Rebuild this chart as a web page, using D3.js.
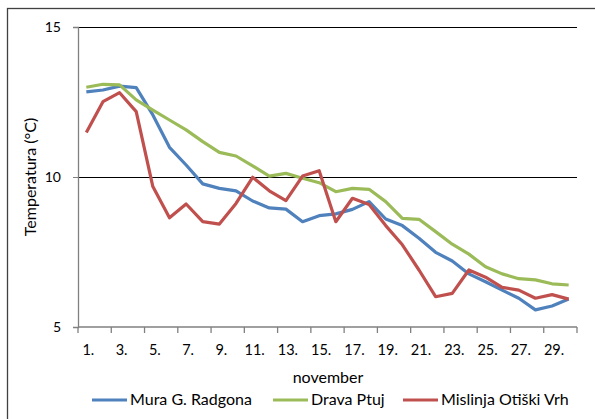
<!DOCTYPE html>
<html>
<head>
<script src="https://d3js.org/d3.v7.min.js"></script>
<style>
  body { margin: 0; background: #fff; }
  text { font-family: Lato, "Open Sans", sans-serif; fill: #000; }
</style>
</head>
<body>
<div id="chart"></div>
<script>
const days = d3.range(1, 31)
const mura = [12.84, 12.9, 13.03, 12.98, 12.07, 10.99, 10.4, 9.77, 9.62, 9.54,
              9.2, 8.97, 8.93, 8.51, 8.71, 8.77, 8.92, 9.18, 8.6, 8.38,
              7.96, 7.49, 7.2, 6.77, 6.51, 6.23, 5.96, 5.57, 5.7, 5.93]
const drava = [12.99, 13.09, 13.07, 12.57, 12.23, 11.9, 11.57, 11.18, 10.82, 10.7,
               10.37, 10.03, 10.12, 9.96, 9.81, 9.51, 9.62, 9.59, 9.18, 8.62,
               8.59, 8.18, 7.76, 7.43, 7.01, 6.77, 6.61, 6.57, 6.44, 6.4]
const mislinja = [11.48, 12.51, 12.81, 12.18, 9.68, 8.64, 9.1, 8.51, 8.43, 9.12,
                  9.99, 9.54, 9.21, 10.03, 10.21, 8.51, 9.29, 9.08, 8.38, 7.74,
                  6.9, 6.01, 6.12, 6.9, 6.66, 6.32, 6.23, 5.96, 6.08, 5.93]
const yTicks = [5, 10, 15]
const series = [
  {name: 'Mura G. Radgona', values: mura, color: '#4F81BD'},
  {name: 'Drava Ptuj', values: drava, color: '#9BBB59'},
  {name: 'Mislinja Otiški Vrh', values: mislinja, color: '#C0504D'}
]

const w = 595, h = 419
const plotLeft = 78, plotRight = 577, plotTop = 27, plotBottom = 327

const svg = d3.select('#chart').append('svg')
  .attr('width', w).attr('height', h)

// outer chart border
svg.append('rect')
  .attr('x', 7.5).attr('y', 8.5)
  .attr('width', 600).attr('height', 420)
  .attr('fill', 'none').attr('stroke', '#404040').attr('stroke-width', 1.3)

const x = d3.scaleBand().domain(days).range([plotLeft, plotRight])
const y = d3.scaleLinear().domain([5, 15]).range([plotBottom, plotTop])

// gridlines
svg.append('g').selectAll('line')
  .data(yTicks.filter(d => d > 5))
  .enter().append('line')
  .attr('x1', plotLeft).attr('x2', plotRight)
  .attr('y1', d => y(d) + 0.5).attr('y2', d => y(d) + 0.5)
  .attr('stroke', '#000').attr('stroke-width', 1.2)

// y axis
const yAxis = svg.append('g')
  .attr('transform', 'translate(' + plotLeft + ',0)')
  .call(d3.axisLeft(y).tickValues(yTicks).tickSize(5).tickPadding(12))
yAxis.select('.domain').attr('stroke', '#808080').attr('stroke-width', 1.3)
yAxis.selectAll('.tick line').attr('stroke', '#808080')
yAxis.selectAll('text').style('font-size', '14px').attr('font-family', null)

// x axis: ticks between every 2 categories, labels on odd days
const xAxisG = svg.append('g').attr('transform', 'translate(0,' + plotBottom + ')')
xAxisG.append('line')
  .attr('x1', plotLeft).attr('x2', plotRight)
  .attr('stroke', '#808080').attr('stroke-width', 1.3)
xAxisG.selectAll('.tk')
  .data(days.filter(d => d % 2 === 1).concat([31]))
  .enter().append('line')
  .attr('x1', d => d === 31 ? plotRight : x(d)).attr('x2', d => d === 31 ? plotRight : x(d))
  .attr('y1', 0).attr('y2', 6)
  .attr('stroke', '#808080').attr('stroke-width', 1.3)
xAxisG.selectAll('text')
  .data(days.filter(d => d % 2 === 1))
  .enter().append('text')
  .attr('x', d => x(d) + x.bandwidth() / 2 + 2)
  .attr('y', 28)
  .attr('text-anchor', 'middle')
  .style('font-size', '14.5px')
  .text(d => d + '.')

// axis titles
svg.append('text')
  .attr('x', 328).attr('y', 383)
  .attr('text-anchor', 'middle')
  .style('font-size', '16px')
  .text('november')
svg.append('text')
  .attr('transform', 'translate(36,177) rotate(-90)')
  .attr('text-anchor', 'middle')
  .style('font-size', '16px')
  .text('Temperatura (°C)')

// lines
const line = d3.line()
  .x((d, i) => x(days[i]) + x.bandwidth() / 2)
  .y(d => y(d))
svg.append('g').selectAll('path')
  .data(series)
  .enter().append('path')
  .attr('d', d => line(d.values))
  .attr('fill', 'none')
  .attr('stroke', d => d.color)
  .attr('stroke-width', 3.2)
  .attr('stroke-linejoin', 'round')

// legend
const legendX = [92, 273, 403]
const legend = svg.append('g').selectAll('g')
  .data(series)
  .enter().append('g')
  .attr('transform', (d, i) => 'translate(' + legendX[i] + ',400)')
legend.append('line')
  .attr('x1', 0).attr('x2', 35)
  .attr('stroke', d => d.color).attr('stroke-width', 3.2)
legend.append('text')
  .attr('x', 38).attr('y', 5)
  .style('font-size', '16px')
  .text(d => d.name)
</script>
</body>
</html>
